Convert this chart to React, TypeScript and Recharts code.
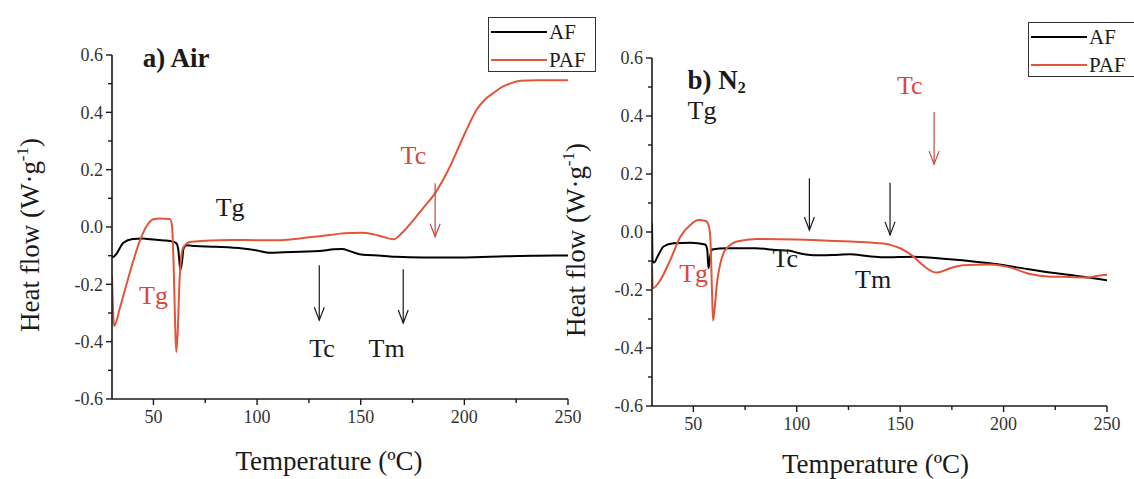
import React from 'react';
import { LineChart, Line, XAxis, YAxis, Legend, ReferenceDot, ReferenceLine } from 'recharts';

const SERIF = '"Liberation Serif", "Times New Roman", serif';
const INK = '#1a1a1a';
const RED = '#e2553b';
const RED_TEXT = '#d9493e';
const ARROW_RED = '#c4473f';

// temperature (ºC), heat flow (W/g)
const airAF: [number, number][] = [
  [30, -0.1], [30.5, -0.105], [32, -0.095], [35.5, -0.055], [40, -0.042], [45, -0.04],
  [48.5, -0.043], [55, -0.047], [58, -0.049], [61, -0.056], [62, -0.08], [63, -0.15],
  [63.8, -0.12], [64.5, -0.075], [66, -0.064], [70, -0.066], [80, -0.069], [93, -0.075],
  [100, -0.082], [106, -0.09], [113, -0.088], [121, -0.086], [130, -0.084], [137, -0.078],
  [141, -0.077], [145, -0.085], [151, -0.097], [160, -0.1], [167, -0.104], [180, -0.106],
  [200, -0.106], [220, -0.102], [235, -0.1], [250, -0.099],
];

const airPAF: [number, number][] = [
  [30, -0.17], [31, -0.345], [33.9, -0.28], [37, -0.2], [40.4, -0.115], [43.6, -0.045],
  [46.9, 0.005], [50, 0.027], [53, 0.03], [58, 0.028], [59, 0.0], [59.8, -0.15],
  [60.5, -0.35], [61, -0.436], [61.8, -0.35], [62.5, -0.2], [63.5, -0.1], [64.5, -0.07],
  [67.7, -0.052], [75, -0.048], [88, -0.045], [100, -0.046], [110, -0.046], [118, -0.042],
  [125, -0.036], [135, -0.028], [142, -0.022], [150, -0.02], [156, -0.025], [161, -0.035],
  [165.8, -0.043], [170, -0.02], [175.4, 0.024], [180, 0.065], [185.9, 0.118], [193, 0.21],
  [199.5, 0.315], [206, 0.41], [210, 0.445], [214, 0.467], [218, 0.488], [222, 0.5],
  [227, 0.51], [235, 0.512], [250, 0.512],
];

const n2AF: [number, number][] = [
  [30, 0.03], [30.3, -0.1], [31, -0.105], [33, -0.08], [35.6, -0.05], [40.4, -0.039],
  [48.5, -0.037], [55.7, -0.043], [56.7, -0.06], [57.3, -0.125], [58, -0.09], [59, -0.06],
  [66, -0.056], [80, -0.056], [90, -0.062], [96, -0.064], [101.6, -0.074], [108, -0.08],
  [117, -0.079], [125.8, -0.077], [134, -0.083], [141.9, -0.087], [156.4, -0.085],
  [174, -0.094], [193.4, -0.108], [206.3, -0.122], [222.5, -0.14], [232.2, -0.148],
  [242, -0.158], [250, -0.166],
];

const n2PAF: [number, number][] = [
  [30, -0.12], [30.4, -0.194], [34, -0.166], [38.8, -0.097], [43.7, -0.016], [48.5, 0.024],
  [52.5, 0.041], [56, 0.038], [57.5, 0.02], [58.2, -0.02], [59, -0.2], [59.5, -0.305],
  [60.2, -0.27], [61.4, -0.177], [63, -0.11], [64.6, -0.073], [67, -0.05], [71, -0.033],
  [80.7, -0.024], [100, -0.026], [115, -0.03], [125.8, -0.033], [135, -0.036], [141.9, -0.04],
  [146, -0.046], [150, -0.056], [153, -0.068], [156.4, -0.085], [159.5, -0.105],
  [162.8, -0.125], [167.7, -0.14], [171, -0.134], [174.1, -0.125], [180.5, -0.115],
  [193.4, -0.112], [203, -0.122], [212.7, -0.145], [222.5, -0.154], [232.2, -0.155],
  [240, -0.157], [245, -0.152], [250, -0.147],
];

const xTicks = [50, 75, 100, 125, 150, 175, 200, 225, 250];
const yTicks = [-0.6, -0.5, -0.4, -0.3, -0.2, -0.1, 0, 0.1, 0.2, 0.3, 0.4, 0.5, 0.6];

type Note = { text: string; t: number; hf: number; red?: boolean; title?: boolean; sub?: string; start?: boolean };
type Arrow = { t: number; from: number; to: number; red?: boolean };

const airNotes: Note[] = [
  { text: 'a) Air', t: 44.8, hf: 0.59, title: true, start: true },
  { text: 'Tg', t: 87, hf: 0.07 },
  { text: 'Tg', t: 50, hf: -0.238, red: true },
  { text: 'Tc', t: 175.4, hf: 0.25, red: true },
  { text: 'Tc', t: 131.3, hf: -0.42 },
  { text: 'Tm', t: 162.5, hf: -0.42 },
];
const airArrows: Arrow[] = [
  { t: 130, from: -0.133, to: -0.325 },
  { t: 170.5, from: -0.147, to: -0.335 },
  { t: 185.9, from: 0.153, to: -0.034, red: true },
];

const n2Notes: Note[] = [
  { text: 'b) N', sub: '2', t: 47.2, hf: 0.525, title: true, start: true },
  { text: 'Tg', t: 47.2, hf: 0.42, start: true },
  { text: 'Tc', t: 154.6, hf: 0.507, red: true },
  { text: 'Tg', t: 50.1, hf: -0.14, red: true },
  { text: 'Tc', t: 94.4, hf: -0.09 },
  { text: 'Tm', t: 136.9, hf: -0.16 },
];
const n2Arrows: Arrow[] = [
  { t: 106.1, from: 0.185, to: 0.007 },
  { t: 145.1, from: 0.17, to: -0.01 },
  { t: 166.4, from: 0.414, to: 0.234, red: true },
];

const toRows = (pts: [number, number][]) => pts.map(([t, hf]) => ({ t, hf }));

const XTick = (props: any) => {
  const { x, y, payload } = props;
  const ay = y - 10;
  const major = payload.value % 50 === 0;
  return (
    <g>
      <line x1={x} x2={x} y1={ay} y2={ay + (major ? 6 : 4)} stroke={INK} strokeWidth={1.4} />
      {major && (
        <text x={x} y={ay + 24} textAnchor="middle" fontFamily={SERIF} fontSize={18} fill="#333">
          {payload.value}
        </text>
      )}
    </g>
  );
};

const YTick = (props: any) => {
  const { x, y, payload } = props;
  const ax = x + 10;
  const major = Math.round(payload.value * 10) % 2 === 0;
  return (
    <g>
      <line x1={ax} x2={ax - (major ? 6 : 4)} y1={y} y2={y} stroke={INK} strokeWidth={1.4} />
      {major && (
        <text x={ax - 9} y={y} dy="0.35em" textAnchor="end" fontFamily={SERIF} fontSize={18} fill="#333">
          {payload.value.toFixed(1)}
        </text>
      )}
    </g>
  );
};

const NoteText = ({ cx, cy, note }: any) => (
  <text
    x={cx}
    y={cy}
    dy="0.35em"
    textAnchor={note.start ? 'start' : 'middle'}
    fontFamily={SERIF}
    fontSize={note.title ? 27 : 26}
    fontWeight={note.title ? 'bold' : 'normal'}
    fill={note.red ? RED_TEXT : INK}
  >
    {note.text}
    {note.sub && (
      <tspan dy={4} fontSize={16}>
        {note.sub}
      </tspan>
    )}
  </text>
);

const ArrowHead = ({ cx, cy, color }: any) => (
  <path d={`M${cx - 5},${cy - 13} L${cx},${cy} L${cx + 5},${cy - 13}`} fill="none" stroke={color} strokeWidth={1.2} />
);

const renderLegend = (props: any) => (
  <div style={{ border: '1.5px solid #333', background: '#fff', width: 106, height: 53, boxSizing: 'content-box' }}>
    {(props.payload || []).map((item: any) => (
      <div key={item.value} style={{ display: 'flex', alignItems: 'center', height: 28 }}>
        <svg width={58} height={6} style={{ marginLeft: 2 }}>
          <line x1={0} x2={56} y1={3} y2={3} stroke={item.color} strokeWidth={2} />
        </svg>
        <span style={{ fontFamily: SERIF, fontSize: 21, color: INK, lineHeight: '28px' }}>{item.value}</span>
      </div>
    ))}
  </div>
);

interface IPanelProps {
  af: [number, number][];
  paf: [number, number][];
  notes: Note[];
  arrows: Arrow[];
  width: number;
  margin: { top: number; right: number; bottom: number; left: number };
  yLabelDx: number;
  xLabelDx: number;
  xLabelDy: number;
  legendPos: { left: number; top: number };
}

const Panel = (p: IPanelProps) => (
  <LineChart width={p.width} height={479} margin={p.margin}>
    <XAxis
      type="number"
      dataKey="t"
      domain={[30, 250]}
      ticks={xTicks}
      interval={0}
      tickSize={6}
      tickMargin={4}
      tickLine={false}
      tick={<XTick />}
      height={30}
      axisLine={{ stroke: INK, strokeWidth: 1.6 }}
      allowDataOverflow
      label={{
        content: (lp: any) => {
          const vb = lp.viewBox;
          return (
            <text x={vb.x + vb.width / 2 + p.xLabelDx} y={vb.y + p.xLabelDy} textAnchor="middle" fontFamily={SERIF} fontSize={27} fill={INK}>
              Temperature (ºC)
            </text>
          );
        },
      }}
    />
    <YAxis
      type="number"
      domain={[-0.6, 0.6]}
      ticks={yTicks}
      interval={0}
      tickSize={6}
      tickMargin={4}
      tickLine={false}
      tick={<YTick />}
      width={100}
      axisLine={{ stroke: INK, strokeWidth: 1.6 }}
      allowDataOverflow
      label={{
        content: (lp: any) => {
          const vb = lp.viewBox;
          const x = vb.x + p.yLabelDx;
          const y = vb.y + vb.height / 2 + 8;
          return (
            <text x={x} y={y} transform={`rotate(-90, ${x}, ${y})`} dy="0.35em" textAnchor="middle" fontFamily={SERIF} fontSize={27} fill={INK}>
              Heat flow (W·g
              <tspan dy={-11} fontSize={17}>-1</tspan>
              <tspan dy={11}>)</tspan>
            </text>
          );
        },
      }}
    />
    <Legend
      layout="horizontal"
      verticalAlign="middle"
      align="center"
      content={renderLegend}
      wrapperStyle={{ left: p.legendPos.left, top: p.legendPos.top, width: 110, height: 57 }}
    />
    <Line name="AF" data={toRows(p.af)} dataKey="hf" type="monotone" stroke="#000" strokeWidth={2} dot={false} isAnimationActive={false} />
    <Line name="PAF" data={toRows(p.paf)} dataKey="hf" type="monotone" stroke={RED} strokeWidth={2} dot={false} isAnimationActive={false} />
    {p.arrows.map((a, i) => (
      <ReferenceLine
        key={'s' + i}
        segment={[{ x: a.t, y: a.from }, { x: a.t, y: a.to }]}
        stroke={a.red ? ARROW_RED : INK}
        strokeWidth={1.2}
      />
    ))}
    {p.arrows.map((a, i) => (
      <ReferenceDot
        key={'h' + i}
        x={a.t}
        y={a.to}
        r={0}
        shape={(sp: any) => <ArrowHead cx={sp.cx} cy={sp.cy} color={a.red ? ARROW_RED : INK} />}
      />
    ))}
    {p.notes.map((n, i) => (
      <ReferenceDot key={'n' + i} x={n.t} y={n.hf} r={0} shape={(sp: any) => <NoteText cx={sp.cx} cy={sp.cy} note={n} />} />
    ))}
  </LineChart>
);

export default function App() {
  return (
    <div style={{ position: 'absolute', left: 0, top: 0, width: 1134, height: 479, background: '#fff', overflow: 'hidden' }}>
      <div style={{ position: 'absolute', left: 0, top: 0 }}>
        <Panel
          af={airAF}
          paf={airPAF}
          notes={airNotes}
          arrows={airArrows}
          width={600}
          margin={{ top: 55, right: 32, bottom: 50, left: 12 }}
          yLabelDx={18}
          xLabelDx={-11}
          xLabelDy={71}
          legendPos={{ left: 488, top: 17 }}
        />
      </div>
      <div style={{ position: 'absolute', left: 540, top: 0 }}>
        <Panel
          af={n2AF}
          paf={n2PAF}
          notes={n2Notes}
          arrows={n2Arrows}
          width={594}
          margin={{ top: 58, right: 27, bottom: 43, left: 12 }}
          yLabelDx={24}
          xLabelDx={-4}
          xLabelDy={67}
          legendPos={{ left: 488, top: 22 }}
        />
      </div>
    </div>
  );
}
